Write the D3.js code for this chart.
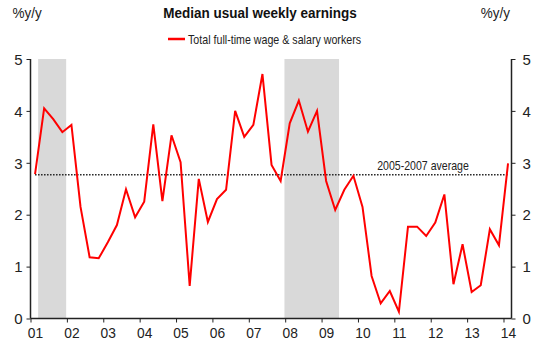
<!DOCTYPE html>
<html>
<head>
<meta charset="utf-8">
<script src="https://cdn.jsdelivr.net/npm/d3@7"></script>
<style>
  body { margin: 0; background: #fff; }
  svg { display: block; font-family: "Liberation Sans", Arial, sans-serif; }
</style>
</head>
<body>
<div id="chart"></div>
<script>
// quarterly y/y % change, 2001 Q1 .. 2014 Q1
const startYear = 2001;
const earnings = [
  2.78, 4.05, 3.84, 3.59, 3.73, 2.15, 1.18, 1.16, 1.47, 1.80, 2.49, 1.95, 2.25,
  3.74, 2.26, 3.53, 3.01, 0.63, 2.69, 1.86, 2.30, 2.48, 4.00, 3.50, 3.73,
  4.71, 2.96, 2.65, 3.76, 4.20, 3.60, 4.00, 2.65, 2.09, 2.48, 2.75, 2.15,
  0.82, 0.29, 0.53, 0.13, 1.77, 1.77, 1.59, 1.85, 2.39, 0.66, 1.43, 0.51,
  0.64, 1.72, 1.41, 2.99
];
const recessions = [[2001.21, 2001.98], [2007.98, 2009.48]];
const average = 2.77;
const yearTicks = d3.range(2001, 2015);
const yTicks = [0, 1, 2, 3, 4, 5];

const width = 542, height = 360;
const plotLeft = 30.5, plotRight = 511.5, plotTop = 59, plotBottom = 318.5;

const svg = d3.select("#chart").append("svg")
  .attr("width", width)
  .attr("height", height);

const x = d3.scaleLinear().domain([2001, 2014.22]).range([plotLeft, plotRight]);
const y = d3.scaleLinear().domain([0, 5]).range([plotBottom, plotTop]);
const qx = i => x(startYear + (i + 0.5) / 4);

// recession shading
svg.selectAll("rect.rec")
  .data(recessions)
  .join("rect")
  .attr("class", "rec")
  .attr("x", d => x(d[0]))
  .attr("y", y(5))
  .attr("width", d => x(d[1]) - x(d[0]))
  .attr("height", y(0) - y(5))
  .attr("fill", "#d9d9d9");

// average line
svg.append("line")
  .attr("x1", qx(0)).attr("x2", qx(earnings.length - 1))
  .attr("y1", y(average)).attr("y2", y(average))
  .attr("stroke", "#222")
  .attr("stroke-width", 1.6)
  .attr("stroke-dasharray", "1.5,1.5");

svg.append("text")
  .attr("transform", `translate(423,${y(average) - 5}) scale(0.88,1)`)
  .attr("text-anchor", "middle")
  .attr("font-size", 12)
  .attr("fill", "#222")
  .text("2005-2007 average");

// series
const line = d3.line()
  .x((d, i) => qx(i))
  .y(d => y(d));

svg.append("path")
  .datum(earnings)
  .attr("fill", "none")
  .attr("stroke", "#ff0000")
  .attr("stroke-width", 2)
  .attr("stroke-linejoin", "miter")
  .attr("d", line);

// axes
const axisColor = "#222";
const leftAxis = svg.append("g")
  .attr("transform", `translate(${plotLeft},0)`)
  .call(d3.axisLeft(y).tickValues(yTicks).tickSize(4).tickFormat(d3.format("d")));
const rightAxis = svg.append("g")
  .attr("transform", `translate(${plotRight},0)`)
  .call(d3.axisRight(y).tickValues(yTicks).tickSize(4).tickFormat(d3.format("d")));
const bottomAxis = svg.append("g")
  .attr("transform", `translate(0,${plotBottom})`)
  .call(d3.axisBottom(x).tickValues(yearTicks).tickSize(4)
    .tickFormat(d => String(d).slice(2)));

[leftAxis, rightAxis, bottomAxis].forEach(g => {
  g.select(".domain").attr("stroke", axisColor).attr("stroke-width", 1.5);
  g.selectAll(".tick line").attr("stroke", axisColor).attr("stroke-width", 1);
  g.selectAll(".tick text")
    .attr("font-family", "Liberation Sans, Arial, sans-serif")
    .attr("font-size", 15)
    .attr("fill", "#222");
});
leftAxis.select(".domain").attr("d", `M0,${plotTop}V${plotBottom}`);
rightAxis.select(".domain").attr("d", `M0,${plotTop}V${plotBottom}`);
bottomAxis.select(".domain").attr("d", `M${plotLeft},0H${plotRight}`);

leftAxis.selectAll(".tick text").attr("x", -8).attr("dy", "0.35em");
rightAxis.selectAll(".tick text").attr("x", 11).attr("dy", "0.35em");
bottomAxis.selectAll(".tick text")
  .attr("y", 9)
  .attr("dy", "0.71em")
  .attr("transform", "translate(4.5,0) scale(0.92,1)");

// titles
svg.append("text")
  .attr("transform", "translate(260,18) scale(0.9,1)")
  .attr("text-anchor", "middle")
  .attr("font-size", 15)
  .attr("font-weight", "bold")
  .attr("fill", "#111")
  .text("Median usual weekly earnings");

svg.append("text")
  .attr("transform", "translate(12.5,18) scale(0.9,1)")
  .attr("font-size", 15)
  .attr("fill", "#222")
  .text("%y/y");

svg.append("text")
  .attr("transform", "translate(510,18) scale(0.9,1)")
  .attr("text-anchor", "end")
  .attr("font-size", 15)
  .attr("fill", "#222")
  .text("%y/y");

// legend
svg.append("line")
  .attr("x1", 168).attr("x2", 185)
  .attr("y1", 39).attr("y2", 39)
  .attr("stroke", "#ff0000")
  .attr("stroke-width", 2.5);
svg.append("text")
  .attr("transform", "translate(188,43.5) scale(0.89,1)")
  .attr("font-size", 12)
  .attr("fill", "#222")
  .text("Total full-time wage & salary workers");
</script>
</body>
</html>
